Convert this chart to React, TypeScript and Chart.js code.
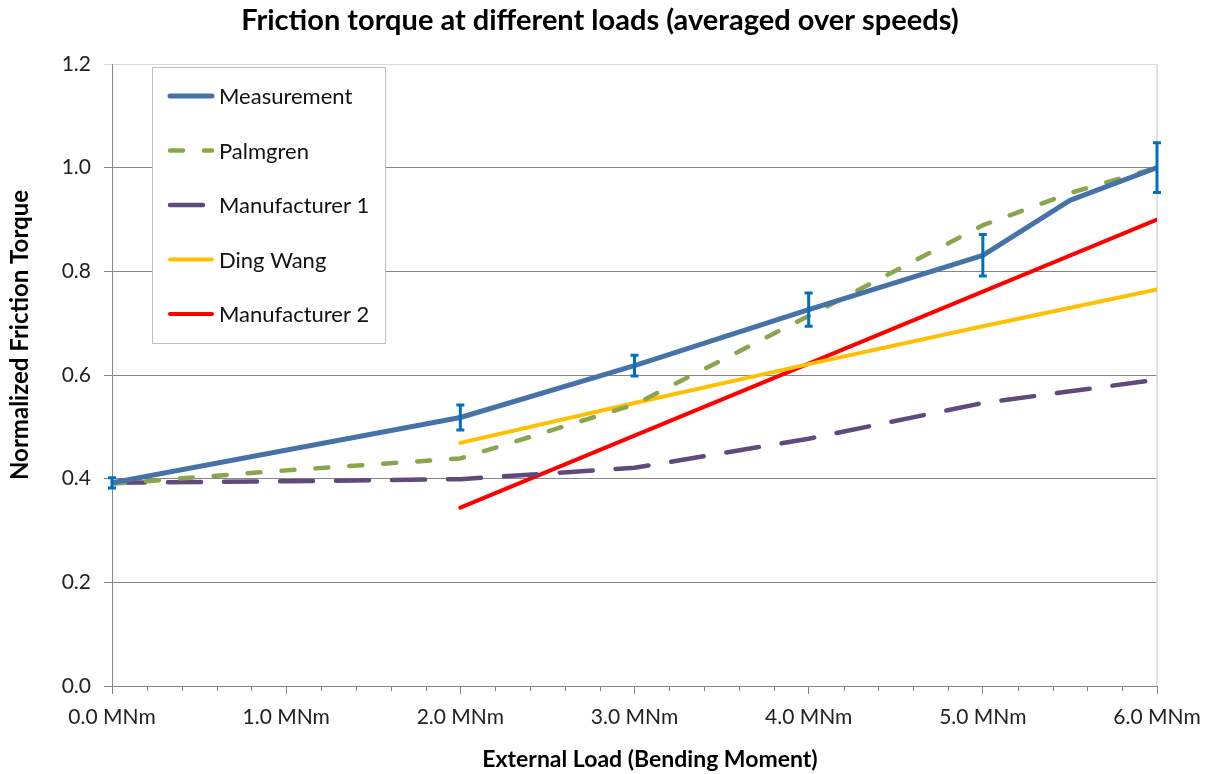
import React, { useEffect, useRef } from 'react';
import { Chart, registerables } from 'chart.js';

Chart.register(...registerables);

const measurementLoads = [0, 2, 3, 4, 5, 5.5, 6];
const measurement = [0.392, 0.518, 0.618, 0.726, 0.831, 0.937, 1.0];
const measurementErr = [0.01, 0.024, 0.02, 0.032, 0.04, 0, 0.048];

const palmgrenLoads = [0, 1, 2, 3, 4, 5, 5.5, 6];
const palmgren = [0.39, 0.416, 0.439, 0.543, 0.714, 0.889, 0.951, 1.0];

const manuf1Loads = [0, 1, 2, 3, 4, 5, 6];
const manuf1 = [0.392, 0.395, 0.399, 0.421, 0.477, 0.546, 0.591];

const dingWangLoads = [2, 3, 4, 5, 6];
const dingWang = [0.469, 0.546, 0.621, 0.694, 0.765];

const manuf2Loads = [2, 4, 6];
const manuf2 = [0.344, 0.622, 0.9];

const seriesLabels = ['Measurement', 'Palmgren', 'Manufacturer 1', 'Ding Wang', 'Manufacturer 2'];
const titleText = 'Friction torque at different loads (averaged over speeds)';
const xTitle = 'External Load (Bending Moment)';
const yTitle = 'Normalized Friction Torque';

const FONT = 'Lato, "Open Sans", sans-serif';
const GRID = '#868686';
const LIGHT = '#d9d9d9';

const pts = (xs: number[], ys: number[]) => xs.map((x, i) => ({ x, y: ys[i] }));

const errorBarPlugin = {
  id: 'errorBars',
  afterDatasetsDraw(chart: any) {
    const { ctx, scales } = chart;
    const xs = scales.x;
    const ys = scales.y;
    ctx.save();
    ctx.strokeStyle = '#0070C0';
    ctx.lineWidth = 3;
    ctx.lineCap = 'butt';
    measurementLoads.forEach((x, i) => {
      const e = measurementErr[i];
      if (!e) return;
      const px = xs.getPixelForValue(x);
      const y1 = ys.getPixelForValue(measurement[i] - e);
      const y2 = ys.getPixelForValue(measurement[i] + e);
      ctx.beginPath();
      ctx.moveTo(px, y1);
      ctx.lineTo(px, y2);
      ctx.moveTo(px - 4, y1);
      ctx.lineTo(px + 4, y1);
      ctx.moveTo(px - 4, y2);
      ctx.lineTo(px + 4, y2);
      ctx.stroke();
    });
    ctx.restore();
  },
};

const decorPlugin = {
  id: 'decor',
  beforeDatasetsDraw(chart: any) {
    const { ctx, chartArea, scales } = chart;
    ctx.save();
    ctx.strokeStyle = LIGHT;
    ctx.lineWidth = 1.5;
    ctx.beginPath();
    ctx.moveTo(chartArea.right, chartArea.top);
    ctx.lineTo(chartArea.right, chartArea.bottom);
    ctx.stroke();
    ctx.strokeStyle = GRID;
    ctx.lineWidth = 1;
    const xs = scales.x;
    for (let k = 0; k <= 30; k++) {
      if (k % 5 === 0) continue;
      const v = k / 5;
      const px = Math.round(xs.getPixelForValue(v)) + 0.5;
      ctx.beginPath();
      ctx.moveTo(px, chartArea.bottom);
      ctx.lineTo(px, chartArea.bottom + 5);
      ctx.stroke();
    }
    ctx.restore();
  },
  afterDraw(chart: any) {
    const { ctx } = chart;
    ctx.save();
    // chart title and axis titles
    ctx.fillStyle = '#000';
    ctx.textAlign = 'center';
    ctx.textBaseline = 'middle';
    ctx.font = `bold 29px ${FONT}`;
    ctx.fillText(titleText, 600, 21);
    ctx.font = `bold 23px ${FONT}`;
    ctx.fillText(xTitle, 650, 760);
    ctx.save();
    ctx.translate(20, 335);
    ctx.rotate(-Math.PI / 2);
    ctx.font = `bold 24px ${FONT}`;
    ctx.fillText(yTitle, 0, 0);
    ctx.restore();
    // legend
    const bx = 152, by = 67, bw = 233, bh = 276;
    ctx.fillStyle = '#ffffff';
    ctx.fillRect(bx, by, bw, bh);
    ctx.strokeStyle = '#bfbfbf';
    ctx.lineWidth = 1;
    ctx.strokeRect(bx + 0.5, by + 0.5, bw, bh);
    chart.data.datasets.forEach((ds: any, i: number) => {
      const y = 96 + i * 54.5;
      ctx.strokeStyle = ds.borderColor;
      ctx.lineWidth = ds.borderWidth;
      ctx.lineCap = 'round';
      ctx.setLineDash(ds.borderDash || []);
      ctx.beginPath();
      ctx.moveTo(170, y);
      ctx.lineTo(212, y);
      ctx.stroke();
      ctx.setLineDash([]);
      ctx.fillStyle = '#111';
      ctx.font = `22px ${FONT}`;
      ctx.textBaseline = 'middle';
      ctx.textAlign = 'left';
      ctx.fillText(ds.label, 219, y + 1);
    });
    ctx.restore();
  },
};

export default function App() {
  const ref = useRef<HTMLCanvasElement | null>(null);
  useEffect(() => {
    if (!ref.current) return;
    const chart = new Chart(ref.current, {
      type: 'line',
      data: {
        datasets: [
          {
            label: seriesLabels[0],
            data: pts(measurementLoads, measurement),
            borderColor: '#4572A7',
            borderWidth: 5,
            pointRadius: 0,
            borderJoinStyle: 'round',
            borderCapStyle: 'round',
          },
          {
            label: seriesLabels[1],
            data: pts(palmgrenLoads, palmgren),
            borderColor: '#89A54E',
            borderWidth: 4.5,
            borderDash: [13, 21],
            pointRadius: 0,
            borderCapStyle: 'round',
            borderJoinStyle: 'round',
          },
          {
            label: seriesLabels[2],
            data: pts(manuf1Loads, manuf1),
            borderColor: '#604A7B',
            borderWidth: 4.5,
            borderDash: [33, 23],
            pointRadius: 0,
            borderCapStyle: 'round',
            borderJoinStyle: 'round',
          },
          {
            label: seriesLabels[3],
            data: pts(dingWangLoads, dingWang),
            borderColor: '#FFC000',
            borderWidth: 4,
            pointRadius: 0,
            borderCapStyle: 'round',
          },
          {
            label: seriesLabels[4],
            data: pts(manuf2Loads, manuf2),
            borderColor: '#FF0000',
            borderWidth: 4,
            pointRadius: 0,
            borderCapStyle: 'round',
          },
        ],
      },
      options: {
        responsive: false,
        animation: false,
        events: [],
        layout: { padding: { left: 0, right: 51, top: 64, bottom: 0 } },
        plugins: {
          legend: { display: false },
          tooltip: { enabled: false },
          title: { display: false },
        },
        scales: {
          x: {
            type: 'linear',
            min: 0,
            max: 6,
            afterFit: (s: any) => { s.height = 88; s.paddingLeft = 0; s.paddingRight = 0; },
            ticks: {
              stepSize: 1,
              padding: 11,
              color: '#222',
              font: { family: FONT, size: 21 },
              callback: (v: any) => Number(v).toFixed(1) + ' MNm',
            },
            grid: { drawOnChartArea: false, tickLength: 8, color: GRID },
            border: { color: GRID },
          },
          y: {
            min: 0,
            max: 1.2,
            afterFit: (s: any) => { s.width = 112; s.paddingTop = 0; s.paddingBottom = 0; },
            ticks: {
              stepSize: 0.2,
              padding: 13,
              color: '#222',
              font: { family: FONT, size: 21 },
              callback: (v: any) => Number(v).toFixed(1),
            },
            grid: {
              tickLength: 8,
              color: (c: any) => (c.tick && Math.abs(c.tick.value - 1.2) < 1e-6 ? LIGHT : GRID),
            },
            border: { color: GRID },
          },
        },
      },
      plugins: [decorPlugin, errorBarPlugin],
    } as any);
    return () => chart.destroy();
  }, []);
  return (
    <div style={{ position: 'fixed', left: 0, top: 0, width: 1208, height: 774, background: '#fff' }}>
      <canvas ref={ref} width={1208} height={774} style={{ display: 'block' }} />
    </div>
  );
}
